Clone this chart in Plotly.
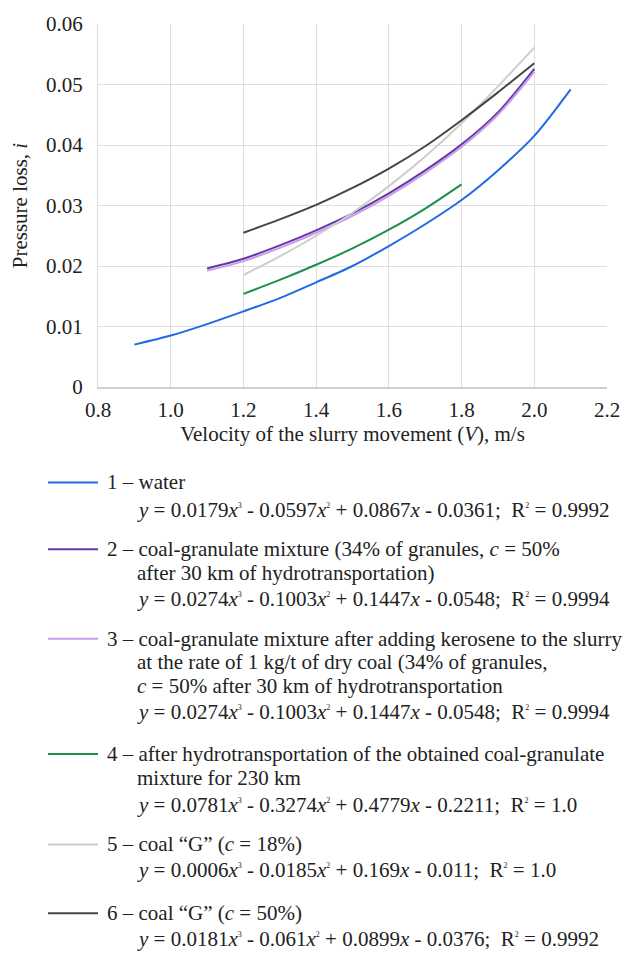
import plotly.graph_objects as go

# ---- data ----
x_water = [0.9, 1.0, 1.1, 1.2, 1.3, 1.4, 1.5, 1.6, 1.7, 1.8, 1.9, 2.0, 2.1]
y_water = [0.0070, 0.0085, 0.0104, 0.0125, 0.0147, 0.0173, 0.0200, 0.0233, 0.0269, 0.0309, 0.0358, 0.0415, 0.0492]

x_mix30 = [1.1, 1.2, 1.3, 1.4, 1.5, 1.6, 1.7, 1.8, 1.9, 2.0]
y_mix30 = [0.0196, 0.0212, 0.0234, 0.0259, 0.0287, 0.0320, 0.0358, 0.0401, 0.0454, 0.0526]

x_kero = [1.1, 1.2, 1.3, 1.4, 1.5, 1.6, 1.7, 1.8, 1.9, 2.0]
y_kero = [0.0192, 0.0208, 0.0230, 0.0255, 0.0283, 0.0316, 0.0354, 0.0397, 0.0450, 0.0521]

x_mix230 = [1.2, 1.3, 1.4, 1.5, 1.6, 1.7, 1.8]
y_mix230 = [0.0154, 0.0177, 0.0202, 0.0229, 0.0260, 0.0295, 0.0335]

x_g18 = [1.2, 1.3, 1.4, 1.5, 1.6, 1.7, 1.8, 1.9, 2.0]
y_g18 = [0.0185, 0.0216, 0.0250, 0.0288, 0.0332, 0.0381, 0.0436, 0.0497, 0.0561]

x_g50 = [1.2, 1.3, 1.4, 1.5, 1.6, 1.7, 1.8, 1.9, 2.0]
y_g50 = [0.0255, 0.0277, 0.0301, 0.0329, 0.0361, 0.0398, 0.0441, 0.0487, 0.0535]

x_ticks = [0.8, 1.0, 1.2, 1.4, 1.6, 1.8, 2.0, 2.2]
y_ticks = [0, 0.01, 0.02, 0.03, 0.04, 0.05, 0.06]

SUP = '<sup><span style="font-size:8px">{}</span></sup>'
NB = '\u00a0'

legend_entries = [
    ("1 – water", [],
     "<i>y</i> = 0.0179<i>x</i>" + SUP.format("3") + " - 0.0597<i>x</i>" + SUP.format("2")
     + " + 0.0867<i>x</i> - 0.0361;" + NB + NB + "R" + SUP.format("2") + " = 0.9992"),
    ("2 – coal-granulate mixture (34% of granules, <i>c</i> = 50%",
     ["after 30 km of hydrotransportation)"],
     "<i>y</i> = 0.0274<i>x</i>" + SUP.format("3") + " - 0.1003<i>x</i>" + SUP.format("2")
     + " + 0.1447<i>x</i> - 0.0548;" + NB + NB + "R" + SUP.format("2") + " = 0.9994"),
    ("3 – coal-granulate mixture after adding kerosene to the slurry",
     ["at the rate of 1 kg/t of dry coal (34% of granules,",
      "<i>c</i> = 50% after 30 km of hydrotransportation"],
     "<i>y</i> = 0.0274<i>x</i>" + SUP.format("3") + " - 0.1003<i>x</i>" + SUP.format("2")
     + " + 0.1447<i>x</i> - 0.0548;" + NB + NB + "R" + SUP.format("2") + " = 0.9994"),
    ("4 – after hydrotransportation of the obtained coal-granulate",
     ["mixture for 230 km"],
     "<i>y</i> = 0.0781<i>x</i>" + SUP.format("3") + " - 0.3274<i>x</i>" + SUP.format("2")
     + " + 0.4779<i>x</i> - 0.2211;" + NB + NB + "R" + SUP.format("2") + " = 1.0"),
    ("5 – coal “G” (<i>c</i> = 18%)", [],
     "<i>y</i> = 0.0006<i>x</i>" + SUP.format("3") + " - 0.0185<i>x</i>" + SUP.format("2")
     + " + 0.169<i>x</i> - 0.011;" + NB + NB + "R" + SUP.format("2") + " = 1.0"),
    ("6 – coal “G” (<i>c</i> = 50%)", [],
     "<i>y</i> = 0.0181<i>x</i>" + SUP.format("3") + " - 0.061<i>x</i>" + SUP.format("2")
     + " + 0.0899<i>x</i> - 0.0376;" + NB + NB + "R" + SUP.format("2") + " = 0.9992"),
]

colors = ["#1f6be3", "#6437a3", "#c89cec", "#1c8f4f", "#cdcdcd", "#454545"]
series = [(x_water, y_water), (x_mix30, y_mix30), (x_kero, y_kero),
          (x_mix230, y_mix230), (x_g18, y_g18), (x_g50, y_g50)]

# layout geometry (pixels)
W, H = 635, 965
PL, PR, PT, PB = 98, 607, 18, 387
FONT = "Liberation Serif"
FS = 21
TXT = "#222222"

fig = go.Figure()
for (xs, ys), col in zip(series, colors):
    fig.add_trace(go.Scatter(x=xs, y=ys, mode="lines",
                             line=dict(color=col, width=2, shape="spline", smoothing=0.8),
                             showlegend=False, hoverinfo="skip"))

def px2paper_x(px):
    return (px - PL) / (PR - PL)

def px2paper_y(py):
    return (PB - py) / (PB - PT)

# legend line positions (pixel rows)
first_rows = [484, 552, 643, 760, 852, 922]
sub_rows = [[], [576], [667, 691], [784], [], []]
eq_rows = [512, 603, 717, 812, 878, 948]

shapes = []
annotations = []
for i, (head, subs, eq) in enumerate(legend_entries):
    y0 = first_rows[i]
    shapes.append(dict(type="line", xref="paper", yref="paper",
                       x0=px2paper_x(48), x1=px2paper_x(98), y0=px2paper_y(y0), y1=px2paper_y(y0),
                       line=dict(color=colors[i], width=2)))
    annotations.append(dict(text=head, xref="paper", yref="paper", x=px2paper_x(105), y=px2paper_y(y0),
                            xanchor="left", yanchor="middle", showarrow=False,
                            font=dict(family=FONT, size=FS, color=TXT)))
    for s, yr in zip(subs, sub_rows[i]):
        annotations.append(dict(text=s, xref="paper", yref="paper", x=px2paper_x(135), y=px2paper_y(yr),
                                xanchor="left", yanchor="middle", showarrow=False,
                                font=dict(family=FONT, size=FS, color=TXT)))
    annotations.append(dict(text=eq, xref="paper", yref="paper", x=px2paper_x(135), y=px2paper_y(eq_rows[i]),
                            xanchor="left", yanchor="middle", showarrow=False,
                            font=dict(family=FONT, size=FS, color=TXT)))

fig.update_layout(
    width=W, height=H,
    margin=dict(l=PL, r=W - PR, t=PT, b=H - PB, pad=0),
    paper_bgcolor="white", plot_bgcolor="white",
    font=dict(family=FONT, size=FS, color=TXT),
    shapes=shapes, annotations=annotations,
    showlegend=False,
)
fig.update_xaxes(range=[0.8, 2.2], tickvals=x_ticks, ticktext=[f"{v:.1f}" for v in x_ticks],
                 showgrid=True, gridcolor="#dedede", gridwidth=1,
                 showline=True, linecolor="#cfcfcf", linewidth=1.5, zeroline=False,
                 ticks="", ticklabelstandoff=3,
                 title=dict(text="Velocity of the slurry movement (<i>V</i>), m/s", standoff=5,
                            font=dict(family=FONT, size=FS)))
fig.update_yaxes(range=[0, 0.06], tickvals=y_ticks, ticktext=["0" if v == 0 else f"{v:.2f}" for v in y_ticks],
                 showgrid=True, gridcolor="#dedede", gridwidth=1,
                 showline=True, linecolor="#dedede", linewidth=1, zeroline=False,
                 ticks="", ticklabelstandoff=10,
                 title=dict(text="Pressure loss, <i>i</i>", standoff=12, font=dict(family=FONT, size=FS)))

fig.write_html("out.html")
